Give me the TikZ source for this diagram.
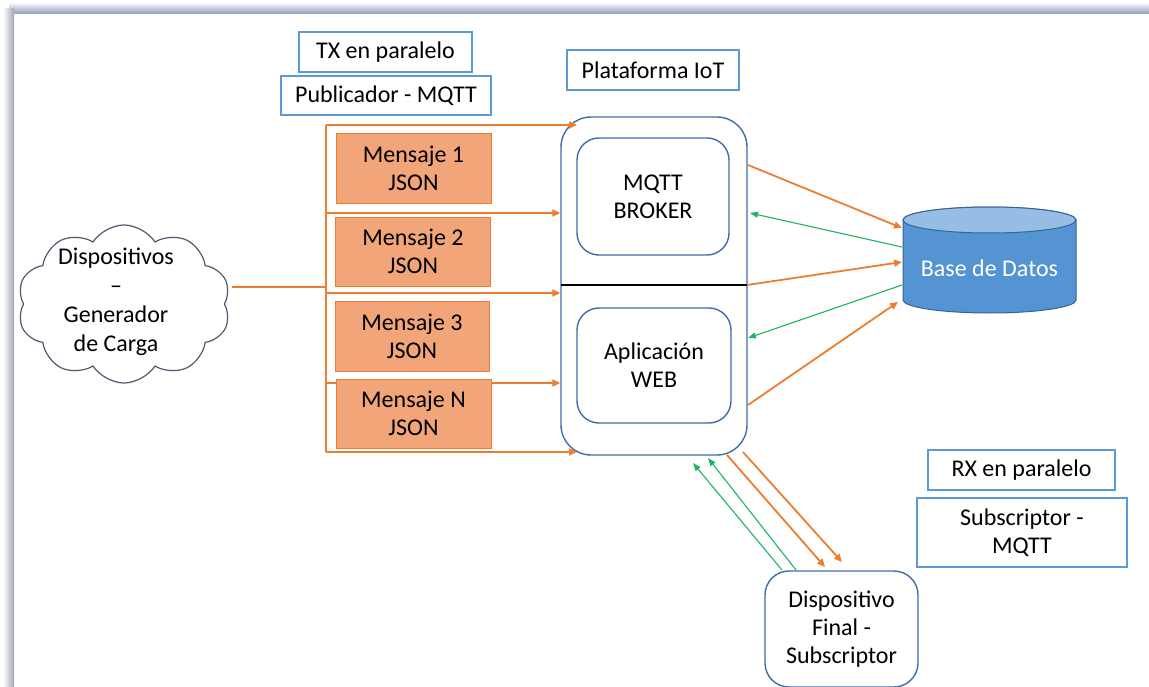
\documentclass[tikz,border=0pt]{standalone}
\usepackage{fontspec}
\setmainfont{Carlito}
\usetikzlibrary{arrows.meta,shapes.symbols}

\definecolor{flow}{RGB}{237,125,49}
\definecolor{back}{RGB}{30,180,100}
\definecolor{lblue}{RGB}{91,155,213}
\definecolor{dkblue}{RGB}{65,108,165}
\definecolor{msgfill}{RGB}{242,165,120}
\definecolor{dbbody}{RGB}{84,148,210}
\definecolor{dbtop}{RGB}{150,190,228}
\definecolor{dbline}{RGB}{55,100,150}
\definecolor{cloudline}{RGB}{80,88,110}
\definecolor{frametop}{RGB}{145,157,186}
\definecolor{frameleft}{RGB}{160,168,184}

\begin{document}
\begin{tikzpicture}[x=1pt,y=-1pt,
  font=\fontsize{24}{28}\selectfont,
  lbl/.style={draw=lblue, line width=1.3pt, fill=white, inner sep=0pt, align=center},
  msg/.style={draw=flow, line width=0.8pt, fill=msgfill, inner sep=0pt, align=center,
              minimum width=155pt, minimum height=70pt},
  rbox/.style={draw=dkblue, line width=1.4pt, fill=white, inner sep=0pt, align=center},
  oarr/.style={draw=flow, line width=1.8pt, -{Triangle[length=8pt,width=7pt]}},
  oline/.style={draw=flow, line width=1.8pt},
  garr/.style={draw=back, line width=1.1pt, -{Triangle[length=8pt,width=6pt]}}]

\useasboundingbox (0,0) rectangle (1149,687);
\fill[white] (0,0) rectangle (1149,687);

% page frame
\shade[top color=white, bottom color=frametop] (9,2) rectangle (1149,14);
\shade[left color=white, right color=frameleft] (3,9) rectangle (14,687);

% header labels
\node[lbl, minimum width=173pt, minimum height=40pt] (tx)  at (385.5,52)  {TX en paralelo};
\node[lbl, minimum width=210pt, minimum height=39pt] (pub) at (386,95.5)  {Publicador - MQTT};
\node[lbl, minimum width=172pt, minimum height=40pt] (iot) at (653,70)    {Plataforma IoT};

% load generator cloud
\node[cloud, cloud puffs=10, cloud puff arc=115, cloud ignores aspect,
      draw=cloudline, line width=1.2pt, minimum width=213pt, minimum height=158pt]
      (cloud) at (124,304) {};
\node[align=center, font=\fontsize{24}{29}\selectfont] (cloudtxt) at (116,302)
      {Dispositivos\\–\\Generador\\de Carga};

% IoT platform container
\node[rbox, rounded corners=30pt, minimum width=186pt, minimum height=338pt] (plat) at (654,286) {};
\node[rbox, rounded corners=22pt, minimum width=152pt, minimum height=117pt] (brk) at (653,196.5) {MQTT\\BROKER};
\node[rbox, rounded corners=22pt, minimum width=154pt, minimum height=115pt] (web) at (654,365.5) {Aplicación\\WEB};
\coordinate (divL) at (561,285);
\coordinate (divR) at (747,285);
\draw[black, line width=1.6pt] (divL) -- (divR);

% publisher bus
\coordinate (c0) at (232,287);
\coordinate (j)  at (326,287);
\coordinate (b0) at (326,125);
\coordinate (b1) at (326,213);
\coordinate (b2) at (326,293);
\coordinate (b3) at (326,383);
\coordinate (b4) at (326,452);
\coordinate (t0) at (577,125);
\coordinate (t4) at (577,452);
\draw[oline] (c0) -- (j);
\draw[oline] (b0) -- (b4);
\draw[oarr] (b0) -- (t0);
\draw[oarr] (b1) -- (b1 -| plat.west);
\draw[oarr] (b2) -- (b2 -| plat.west);
\draw[oarr] (b3) -- (b3 -| plat.west);
\draw[oarr] (b4) -- (t4);

% messages
\node[msg] (m1) at (413.5,168)   {Mensaje 1\\JSON};
\node[msg, minimum height=69pt] (m2) at (413,251.5) {Mensaje 2\\JSON};
\node[msg, minimum width=154pt] (m3) at (412,336)   {Mensaje 3\\JSON};
\node[msg, minimum height=69pt] (mN) at (413.5,413.5) {Mensaje N\\JSON};

% database cylinder
\filldraw[fill=dbbody, draw=dbline, line width=1pt]
  (903,220) -- (903,300) arc[start angle=180, end angle=360, x radius=86.5pt, y radius=13pt]
  -- (1076,220) arc[start angle=0, end angle=180, x radius=86.5pt, y radius=13pt] -- cycle;
\filldraw[fill=dbtop, draw=dbline, line width=1pt] (989.5,220) ellipse[x radius=86.5pt, y radius=13pt];
\node[text=white] (db) at (989.5,268) {Base de Datos};

% platform <-> database
\coordinate (p1) at (748,165);  \coordinate (d1) at (902,228);
\coordinate (d2) at (902,247);  \coordinate (p2) at (750,213);
\coordinate (d3) at (902,262);
\coordinate (d4) at (902,285);  \coordinate (p4) at (748,338);
\coordinate (p5) at (748,405);  \coordinate (d5) at (898,302);
\draw[oarr] (p1) -- (d1);
\draw[garr] (d2) -- (p2);
\draw[oarr] (divR) -- (d3);
\draw[garr] (d4) -- (p4);
\draw[oarr] (p5) -- (d5);

% subscriber side
\node[lbl, minimum width=187pt, minimum height=40pt] (rx)  at (1021.5,470) {RX en paralelo};
\node[lbl, minimum width=210pt, minimum height=69pt] (sub) at (1022,532.5) {Subscriptor -\\MQTT};
\node[rbox, rounded corners=24pt, minimum width=153pt, minimum height=116pt] (fin) at (841.5,629)
      {Dispositivo\\Final -\\Subscriptor};

\coordinate (f1) at (782,570);  \coordinate (q1) at (693,463);
\coordinate (f2) at (796,570);  \coordinate (q2) at (708,458);
\coordinate (q3) at (727,455);  \coordinate (f3) at (825,567);
\coordinate (q4) at (743,452);  \coordinate (f4) at (842,562);
\draw[garr] (f1) -- (q1);
\draw[garr] (f2) -- (q2);
\draw[oarr] (q3) -- (f3);
\draw[oarr] (q4) -- (f4);
\end{tikzpicture}
\end{document}
